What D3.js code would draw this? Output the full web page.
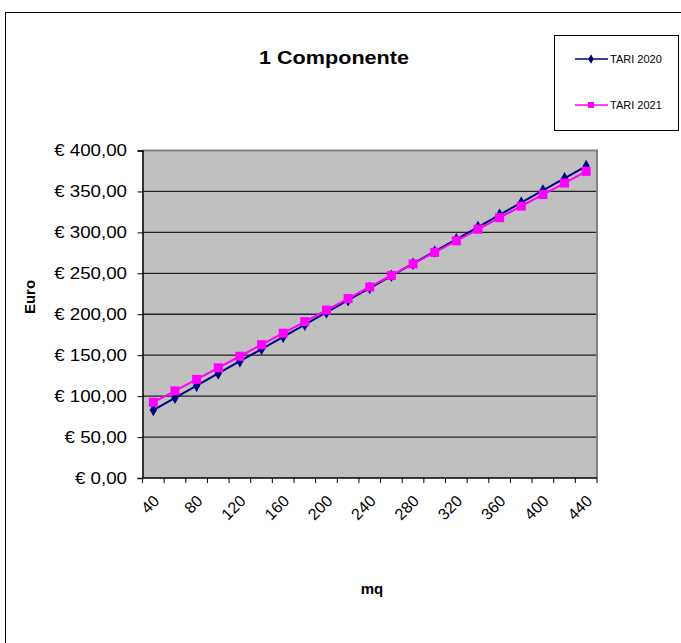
<!DOCTYPE html>
<html>
<head>
<meta charset="utf-8">
<script src="https://cdn.jsdelivr.net/npm/d3@7"></script>
<style>
  body { margin: 0; background: #fff; }
  text { font-family: "Liberation Sans", Arial, sans-serif; }
</style>
</head>
<body>
<svg id="chart" width="681" height="643"></svg>
<script>
const categories = [40, 60, 80, 100, 120, 140, 160, 180, 200, 220, 240, 260, 280, 300, 320, 340, 360, 380, 400, 420, 440];
const tari2020 = [83.0, 97.9, 112.8, 127.7, 142.6, 157.5, 172.4, 187.3, 202.2, 217.1, 232.0, 246.9, 261.8, 276.7, 291.6, 306.5, 321.4, 336.3, 351.2, 366.1, 381.0];
const tari2021 = [92.5, 106.4, 120.5, 134.6, 148.7, 162.8, 176.9, 191.0, 205.1, 219.2, 233.3, 247.4, 261.5, 275.6, 289.7, 303.8, 317.9, 332.0, 346.1, 360.2, 374.5];
const yTicks = [0, 50, 100, 150, 200, 250, 300, 350, 400];
const xLabels = [40, 80, 120, 160, 200, 240, 280, 320, 360, 400, 440];
const seriesNames = ["TARI 2020", "TARI 2021"];
const title = "1 Componente";
const yTitle = "Euro";
const xTitle = "mq";

const svg = d3.select("#chart");
const L = 142.5, R = 597, T = 150.5, B = 478;

// outer frame
svg.append("rect").attr("x", 5.5).attr("y", 12.5).attr("width", 720).attr("height", 700)
  .attr("fill", "#fff").attr("stroke", "#000").attr("stroke-width", 1);

const x = d3.scaleBand().domain(categories).range([L, R]).padding(0);
const y = d3.scaleLinear().domain([0, 400]).range([B, T]);

// plot background
svg.append("rect").attr("x", L).attr("y", T).attr("width", R - L).attr("height", B - T).attr("fill", "#C0C0C0");

// gridlines
svg.append("g").selectAll("line").data(yTicks.filter(d => d > 0 && d < 400)).join("line")
  .attr("x1", L).attr("x2", R).attr("y1", d => y(d)).attr("y2", d => y(d))
  .attr("stroke", "#222").attr("stroke-width", 1.3);

// plot border top/right
svg.append("path").attr("d", `M${L},${T}H${R}V${B}`).attr("fill", "none").attr("stroke", "#808080").attr("stroke-width", 2);

// y axis
const yAxis = d3.axisLeft(y).tickValues(yTicks).tickSize(5).tickFormat("");
const gy = svg.append("g").attr("transform", `translate(${L},0)`).call(yAxis);
gy.select(".domain").attr("stroke", "#000").attr("stroke-width", 1.5);
gy.selectAll(".tick line").attr("stroke", "#000").attr("stroke-width", 1);
svg.append("g").selectAll("text").data(yTicks).join("text")
  .attr("transform", d => `translate(127,${y(d) + 5.5}) scale(1.17,1)`)
  .attr("text-anchor", "end").attr("font-size", 16).attr("fill", "#000")
  .text(d => "€ " + d3.format(".2f")(d).replace(".", ","));

// x axis
const gx = svg.append("g").attr("transform", `translate(0,${B})`);
gx.append("line").attr("x1", L).attr("x2", R).attr("y1", 0).attr("y2", 0).attr("stroke", "#000").attr("stroke-width", 1.5);
const bounds = categories.map(c => x(c)).concat([R]);
gx.selectAll("line.tk").data(bounds).join("line").attr("class", "tk")
  .attr("x1", d => d).attr("x2", d => d).attr("y1", 0).attr("y2", 5).attr("stroke", "#000").attr("stroke-width", 1);
gx.selectAll("text").data(xLabels).join("text")
  .attr("transform", d => `translate(${x(d) + x.bandwidth() / 2 + 7},${24}) rotate(-45)`)
  .attr("text-anchor", "end").attr("font-size", 16).attr("fill", "#000").text(d => d);

// lines
const cx = c => x(c) + x.bandwidth() / 2;
const line = d3.line().x((d, i) => cx(categories[i])).y(d => y(d));
svg.append("path").datum(tari2020).attr("d", line).attr("fill", "none").attr("stroke", "#000080").attr("stroke-width", 2);
svg.append("path").datum(tari2021).attr("d", line).attr("fill", "none").attr("stroke", "#FF00FF").attr("stroke-width", 2);

const diamond = d3.symbol().type(d3.symbolDiamond).size(45);
svg.append("g").selectAll("path").data(tari2020).join("path")
  .attr("d", diamond).attr("transform", (d, i) => `translate(${cx(categories[i])},${y(d)})`).attr("fill", "#000080");
svg.append("g").selectAll("rect").data(tari2021).join("rect")
  .attr("x", (d, i) => cx(categories[i]) - 4.5).attr("y", d => y(d) - 4.5).attr("width", 9).attr("height", 9).attr("fill", "#FF00FF");

// title
svg.append("text").attr("transform", "translate(334,64) scale(1.2,1)").attr("text-anchor", "middle")
  .attr("font-size", 18).attr("font-weight", "bold").text(title);

// axis titles
svg.append("text").attr("transform", "translate(35,297) rotate(-90)").attr("text-anchor", "middle")
  .attr("font-size", 15).attr("font-weight", "bold").text(yTitle);
svg.append("text").attr("x", 372).attr("y", 594).attr("text-anchor", "middle")
  .attr("font-size", 15).attr("font-weight", "bold").text(xTitle);

// legend
const lg = svg.append("g");
lg.append("rect").attr("x", 554.5).attr("y", 35.5).attr("width", 124).attr("height", 95).attr("fill", "#fff").attr("stroke", "#000").attr("stroke-width", 1);
const colors = ["#000080", "#FF00FF"];
const ly = [59, 105];
seriesNames.forEach((n, i) => {
  lg.append("line").attr("x1", 575).attr("x2", 608).attr("y1", ly[i]).attr("y2", ly[i]).attr("stroke", colors[i]).attr("stroke-width", 1.5);
  if (i === 0) lg.append("path").attr("d", d3.symbol().type(d3.symbolDiamond).size(25)).attr("transform", `translate(591,${ly[i]})`).attr("fill", colors[i]);
  else lg.append("rect").attr("x", 588).attr("y", ly[i] - 3).attr("width", 6).attr("height", 6).attr("fill", colors[i]);
  lg.append("text").attr("x", 610).attr("y", ly[i] + 4).attr("font-size", 11).attr("fill", "#000").text(n);
});
</script>
</body>
</html>
